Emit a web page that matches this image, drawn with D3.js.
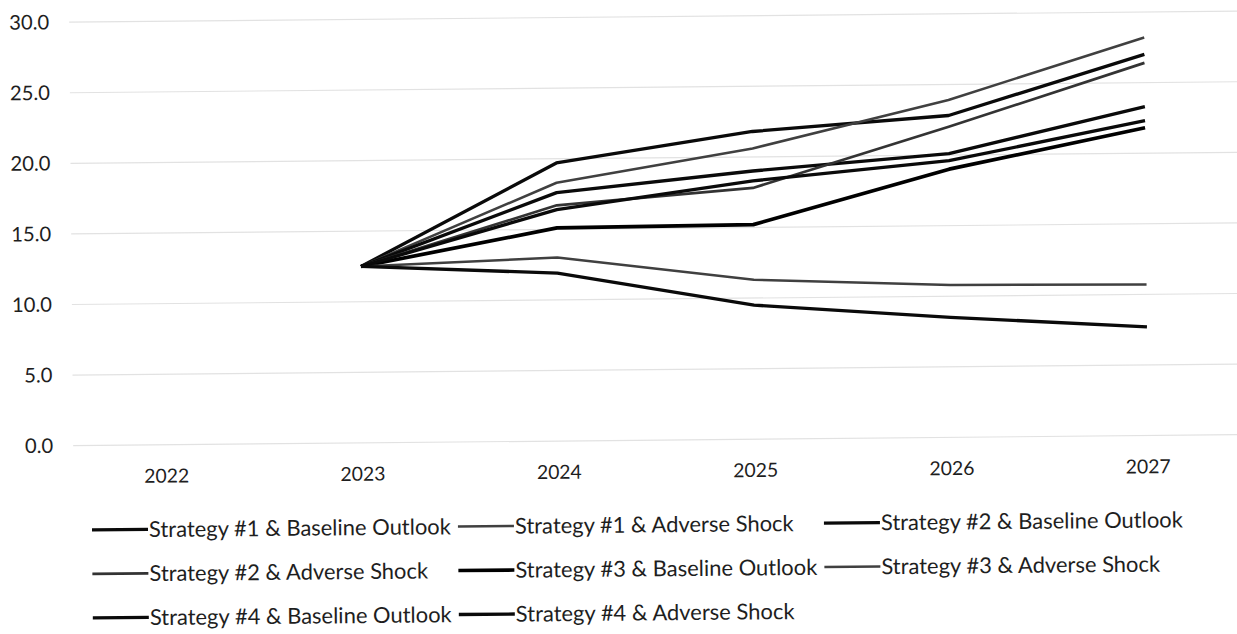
<!DOCTYPE html>
<html>
<head>
<meta charset="utf-8">
<script src="https://cdn.jsdelivr.net/npm/d3@7"></script>
<style>
  html, body { margin: 0; padding: 0; background: #fff; }
  svg { display: block; }
</style>
</head>
<body>
<svg id="chart" width="1237" height="634"></svg>
<script>
// Years on the category axis
const years = ["2022", "2023", "2024", "2025", "2026", "2027"];

// Projected values per scenario (no value for 2022)
const s1Baseline = [null, 12.5, 19.7, 21.8, 22.8, 27.0];
const s1Adverse  = [null, 12.5, 18.3, 20.6, 23.9, 28.2];
const s2Baseline = [null, 12.5, 17.6, 19.0, 20.1, 23.3];
const s2Adverse  = [null, 12.5, 16.7, 17.8, 22.0, 26.4];
const s3Baseline = [null, 12.5, 15.1, 15.2, 19.0, 21.8];
const s3Adverse  = [null, 12.5, 13.0, 11.3, 10.8, 10.7];
const s4Baseline = [null, 12.5, 16.4, 18.3, 19.6, 22.3];
const s4Adverse  = [null, 12.5, 11.9, 9.5, 8.5, 7.7];

const seriesNames = [
  "Strategy #1 & Baseline Outlook", "Strategy #1 & Adverse Shock",
  "Strategy #2 & Baseline Outlook", "Strategy #2 & Adverse Shock",
  "Strategy #3 & Baseline Outlook", "Strategy #3 & Adverse Shock",
  "Strategy #4 & Baseline Outlook", "Strategy #4 & Adverse Shock"
];
const seriesValues = [s1Baseline, s1Adverse, s2Baseline, s2Adverse,
                      s3Baseline, s3Adverse, s4Baseline, s4Adverse];

// Y axis ticks
const yTicks = [0, 5, 10, 15, 20, 25, 30];

// Stroke styles for each series
const seriesStyle = [
  { color: "#0a0a0a", width: 3.3 },
  { color: "#404040", width: 2.5 },
  { color: "#0a0a0a", width: 3.3 },
  { color: "#333333", width: 2.7 },
  { color: "#000000", width: 3.7 },
  { color: "#404040", width: 2.5 },
  { color: "#0a0a0a", width: 3.3 },
  { color: "#0a0a0a", width: 3.3 }
];

const FONT = "Lato, 'Open Sans', sans-serif";
const svg = d3.select("#chart");

// Pick a font size so a string renders at a target width
function fitSize(str, target) {
  const t = svg.append("text").attr("font-family", FONT)
    .attr("font-size", 100).text(str);
  const w = t.node().getComputedTextLength();
  t.remove();
  return 100 * target / w;
}
const tickSize = fitSize("30.0", 40);
const yearSize = fitSize("2022", 45);
const legendSize = fitSize("Strategy #1 & Baseline Outlook", 302);

// The whole page sits slightly askew
const root = svg.append("g").attr("transform", "rotate(-0.54, 618, 317)");

const plotLeft = 67, plotRight = 1245, plotTop = 17, plotBottom = 440.5;

const x = d3.scaleBand().domain(years).range([plotLeft, plotRight]).padding(0);
const xc = d => x(d) + x.bandwidth() / 2;
const y = d3.scaleLinear().domain([0, 30]).range([plotBottom, plotTop]);

// Horizontal gridlines
root.append("g").selectAll("line").data(yTicks).join("line")
  .attr("x1", plotLeft + 5).attr("x2", 1300)
  .attr("y1", d => y(d)).attr("y2", d => y(d))
  .attr("stroke", "#e2e2e2").attr("stroke-width", 1.2);

// Y axis labels
const yAxis = root.append("g").attr("transform", `translate(${plotLeft},0)`)
  .call(d3.axisLeft(y).tickValues(yTicks).tickFormat(d3.format(".1f"))
    .tickSize(0).tickPadding(15));
yAxis.select(".domain").remove();
yAxis.selectAll("text").attr("font-family", FONT).attr("font-size", tickSize)
  .attr("fill", "#1e1e1e");

// X axis labels
const xAxis = root.append("g").attr("transform", `translate(0,${plotBottom})`)
  .call(d3.axisBottom(x).tickSize(0).tickPadding(24));
xAxis.select(".domain").remove();
xAxis.selectAll("text").attr("font-family", FONT).attr("font-size", yearSize)
  .attr("fill", "#1e1e1e");

// Series lines
const line = d3.line()
  .defined(d => d.v != null)
  .x(d => xc(d.year))
  .y(d => y(d.v));

root.append("g").selectAll("path")
  .data(seriesValues.map((vals, i) => ({ i, pts: vals.map((v, j) => ({ year: years[j], v })) })))
  .join("path")
  .attr("fill", "none")
  .attr("stroke", d => seriesStyle[d.i].color)
  .attr("stroke-width", d => seriesStyle[d.i].width)
  .attr("stroke-linejoin", "round")
  .attr("stroke-linecap", "butt")
  .attr("d", d => line(d.pts));

// Legend in three columns
const colX = [90, 456, 822];
const rowY = [525, 569, 613];
const legend = root.append("g").selectAll("g").data(seriesNames).join("g")
  .attr("transform", (d, i) => `translate(${colX[i % 3]},${rowY[Math.floor(i / 3)]})`);
legend.append("line")
  .attr("x1", 0).attr("x2", 56).attr("y1", 0).attr("y2", 0)
  .attr("stroke", (d, i) => seriesStyle[i].color)
  .attr("stroke-width", (d, i) => seriesStyle[i].width);
legend.append("text")
  .attr("x", 57).attr("y", 0).attr("dy", "0.35em")
  .attr("font-family", FONT).attr("font-size", legendSize)
  .attr("fill", "#1e1e1e")
  .text(d => d);
</script>
</body>
</html>
